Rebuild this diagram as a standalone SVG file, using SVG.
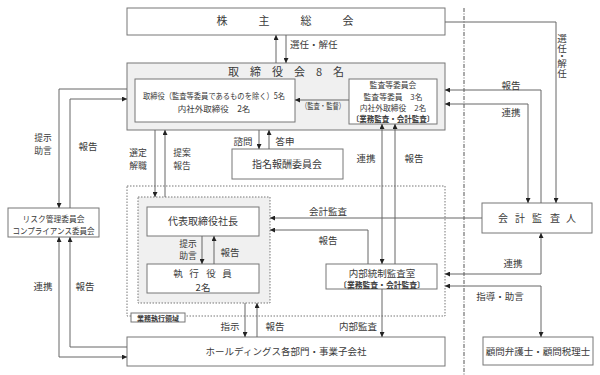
<svg xmlns="http://www.w3.org/2000/svg" width="600" height="375" viewBox="0 0 600 375">
<defs>
<marker id="ah" viewBox="0 0 10 10" refX="10" refY="5" markerWidth="5" markerHeight="5" markerUnits="userSpaceOnUse" orient="auto-start-reverse"><path d="M0,0 L10,5 L0,10 z" fill="#222"/></marker>
</defs>
<style>
text{font-family:"Noto Sans CJK JP","Noto Sans",sans-serif;fill:#3a3a3a;font-size:9.5px}
.m{text-anchor:middle}
.box{fill:#fff;stroke:#777;stroke-width:1}
.gray{fill:#f0f0f0;stroke:#777;stroke-width:1}
.dot{fill:none;stroke:#777;stroke-width:1;stroke-dasharray:1.5,1.5}
.dotg{fill:#f0f0f0;stroke:#777;stroke-width:1;stroke-dasharray:1.5,1.5}
.c path{fill:none;stroke:#666;stroke-width:1}
.e{marker-end:url(#ah)}
.b{marker-start:url(#ah);marker-end:url(#ah)}
.s8{font-size:8.5px}
.p{font-size:8.8px}
.bold{font-weight:bold}
</style>
<rect width="600" height="375" fill="#fff"/>
<path d="M464,8 V375" stroke="#555" stroke-width="1" fill="none" stroke-dasharray="4,1.5,1,1.5"/>

<g id="shareholders">
<rect class="box" x="127" y="8" width="318" height="27"/>
<text class="m" x="222 264 306 348" y="25" style="font-size:11px">株主総会</text>
</g>

<g id="board">
<rect class="gray" x="127" y="63" width="318" height="67"/>
<text class="m" x="286" y="76" style="font-size:11px">取　締　役　会　8　名</text>
</g>
<g id="directors">
<rect class="box" x="135" y="79" width="160" height="43"/>
<text class="m s8" x="214" y="99" textLength="142" lengthAdjust="spacingAndGlyphs">取締役（監査等委員であるものを除く）5名</text>
<text class="m s8" x="214" y="111.5">内社外取締役　2名</text>
</g>
<g id="audit-committee">
<rect class="box" x="349" y="79" width="88" height="45"/>
<text class="m" x="393" y="88.2" style="font-size:7.8px">監査等委員会</text>
<text class="m" x="393" y="99.6" style="font-size:7.8px">監査等委員　3名</text>
<text class="m" x="393" y="111" style="font-size:7.8px">内社外取締役　2名</text>
<text class="m bold" x="393" y="122.2" style="font-size:7.5px">〔業務監査・会計監査〕</text>
</g>

<g id="nomination">
<rect class="box" x="232" y="149" width="111" height="30"/>
<text class="m" x="287" y="167.5" style="font-size:10px">指名報酬委員会</text>
</g>

<g id="risk">
<rect class="box" x="8" y="208" width="91" height="29"/>
<text class="m" x="53.5" y="222" style="font-size:8.3px" textLength="62" lengthAdjust="spacingAndGlyphs">リスク管理委員会</text>
<text class="m" x="53.5" y="234" style="font-size:8.3px" textLength="82" lengthAdjust="spacingAndGlyphs">コンプライアンス委員会</text>
</g>

<g id="exec-area">
<rect class="dot" x="127" y="186" width="318" height="130"/>
<rect class="dotg" x="138" y="197" width="132" height="106"/>
<rect class="box" x="131" y="313" width="54" height="9"/>
<text class="m bold" x="158" y="320.5" style="font-size:7px">業務執行領域</text>
</g>

<g id="president">
<rect class="box" x="147" y="207" width="112" height="29"/>
<text class="m" x="203" y="225" style="font-size:10px">代表取締役社長</text>
</g>

<g id="officers">
<rect class="box" x="147" y="264" width="112" height="29"/>
<text class="m" x="178 194 211 227" y="277" style="font-size:9.5px">執行役員</text>
<text class="m" x="203" y="291" style="font-size:9.5px">2名</text>
</g>

<g id="internal-audit">
<rect class="box" x="326" y="264" width="111" height="25"/>
<text class="m" x="382" y="276.5" style="font-size:9.5px">内部統制監査室</text>
<text class="m bold" x="382" y="287.5" style="font-size:7.8px">〔業務監査・会計監査〕</text>
</g>

<g id="auditor">
<rect class="box" x="482" y="203" width="110" height="30"/>
<text class="m" x="503 520 537 555 571" y="221.5" style="font-size:10px">会計監査人</text>
</g>

<g id="advisors">
<rect class="box" x="483" y="337" width="110" height="28"/>
<text class="m" x="538" y="354.5" style="font-size:9.5px">顧問弁護士・顧問税理士</text>
</g>

<g id="holdings">
<rect class="box" x="127" y="337" width="318" height="29"/>
<text class="m" x="286" y="355" style="font-size:9.5px">ホールディングス各部門・事業子会社</text>
</g>

<g id="connectors" class="c">
<path class="e" d="M276,63 V35"/>
<path class="e" d="M286,35 V63"/>
<path class="e" d="M445,22 H556 V203"/>
<path class="e" d="M541,203 V90 H445"/>
<path class="b" d="M445,104 H528 V203"/>
<path class="e" d="M482,218 H270"/>
<path class="e" d="M368,264 V230 H270"/>
<path class="b" d="M382,124 V264"/>
<path class="e" d="M395,264 V124"/>
<path class="e" d="M382,289 V337"/>
<path class="e" d="M245,303 V337"/>
<path class="e" d="M257,337 V303"/>
<path class="e" d="M202,236 V264"/>
<path class="e" d="M214,264 V236"/>
<path class="e" d="M155,130 V197"/>
<path class="e" d="M165,197 V130"/>
<path class="e" d="M259,130 V149"/>
<path class="e" d="M269,149 V130"/>
<path class="e" d="M349,100 H295"/>
<path class="b" d="M541,233 V274 H445"/>
<path class="b" d="M445,286 H541 V337"/>
<path class="e" d="M127,89 H59 V208"/>
<path class="e" d="M70,208 V99 H127"/>
<path class="b" d="M59,237 V357 H127"/>
<path class="e" d="M127,347 H70 V237"/>
</g>

<g id="labels">
<text x="290" y="48">選任・解任</text>
<text class="m" x="562 562 562 562 562" y="41.5 51.5 58.5 66.5 76.5">選任・解任</text>
<text class="m" x="511" y="88.5">報告</text>
<text class="m" x="511" y="115.5">連携</text>
<text class="m" x="328" y="215">会計監査</text>
<text class="m" x="328" y="244">報告</text>
<text class="m" x="366" y="162">連携</text>
<text class="m" x="414" y="162">報告</text>
<text class="m" x="358" y="329.5">内部監査</text>
<text class="m" x="230" y="329.5">指示</text>
<text class="m" x="275" y="329.5">報告</text>
<text class="m p" x="188" y="246.5">提示</text>
<text class="m p" x="188" y="259.3">助言</text>
<text class="m" x="230" y="256">報告</text>
<text class="m p" x="138" y="156">選定</text>
<text class="m p" x="138" y="168.8">解職</text>
<text class="m p" x="182" y="156">提案</text>
<text class="m p" x="182" y="168.8">報告</text>
<text class="m" x="243" y="145">諮問</text>
<text class="m" x="285" y="145">答申</text>
<text class="m" x="323" y="108.5" style="font-size:8px" textLength="44" lengthAdjust="spacingAndGlyphs">（監査・監督）</text>
<text class="m" x="513" y="267">連携</text>
<text class="m" x="500" y="300">指導・助言</text>
<text class="m p" x="43" y="141">提示</text>
<text class="m p" x="43" y="153.8">助言</text>
<text class="m" x="88" y="150">報告</text>
<text class="m" x="43" y="289.5">連携</text>
<text class="m" x="85" y="289.5">報告</text>
</g>
</svg>
